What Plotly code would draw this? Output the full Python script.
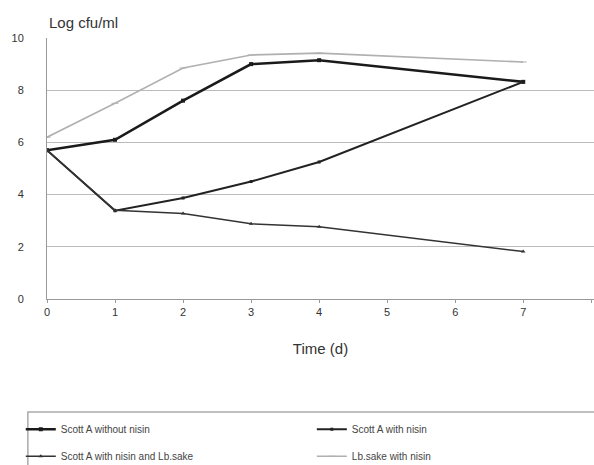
import plotly.graph_objects as go

days = [0, 1, 2, 3, 4, 7]
without_nisin = [5.7, 6.1, 7.6, 9.0, 9.15, 8.32]
with_nisin = [5.7, 3.38, 3.87, 4.5, 5.25, 8.32]
with_nisin_lb = [5.7, 3.4, 3.28, 2.88, 2.77, 1.82]
lb_sake_nisin = [6.2, 7.5, 8.85, 9.35, 9.42, 9.08]
x_ticks = [0, 1, 2, 3, 4, 5, 6, 7, 8]
y_ticks = [0, 2, 4, 6, 8, 10]

FONT = "Liberation Sans Narrow, Arial Narrow, Liberation Sans, sans-serif"

fig = go.Figure()
fig.add_trace(go.Scatter(x=days, y=without_nisin, name="Scott A without nisin", mode="lines+markers",
                         legend="legend", legendgroup="a",
                         line=dict(color="#1a1a1a", width=2.6), marker=dict(symbol="square", size=4, color="#1a1a1a")))
fig.add_trace(go.Scatter(x=days, y=with_nisin, name="Scott A with nisin", mode="lines+markers",
                         legend="legend2", legendgroup="b",
                         line=dict(color="#222222", width=2.0), marker=dict(symbol="square", size=3, color="#222222")))
fig.add_trace(go.Scatter(x=days, y=with_nisin_lb, name="Scott A with nisin and Lb.sake", mode="lines+markers",
                         legend="legend", legendgroup="c",
                         line=dict(color="#333333", width=1.5), marker=dict(symbol="triangle-up", size=4, color="#333333")))
fig.add_trace(go.Scatter(x=days, y=lb_sake_nisin, name="Lb.sake with nisin", mode="lines+markers",
                         legend="legend2", legendgroup="d",
                         line=dict(color="#b0b0b0", width=1.6), marker=dict(symbol="line-ew-open", size=5, color="#b0b0b0")))

leg_common = dict(orientation="v", xref="container", yref="container", yanchor="top", y=0.108,
                  xanchor="left", borderwidth=0, bgcolor="rgba(0,0,0,0)",
                  font=dict(size=10, color="#444444"), itemwidth=30, tracegroupgap=8)

fig.update_layout(
    width=594, height=465,
    margin=dict(l=47, r=0, t=38, b=166, autoexpand=False),
    paper_bgcolor="white", plot_bgcolor="white",
    font=dict(family=FONT, size=11, color="#333333"),
    showlegend=True,
    legend=dict(x=0.035, **leg_common),
    legend2=dict(x=0.525, **leg_common),
    shapes=[dict(type="rect", xref="paper", yref="paper", x0=-0.035, x1=1.05, y0=-0.433, y1=-0.64,
                 line=dict(color="#aaaaaa", width=1.5), fillcolor="rgba(0,0,0,0)", layer="below")],
    xaxis=dict(range=[0, 8.04], tickvals=x_ticks, showgrid=False, showline=True, linecolor="#999999",
               ticks="outside", ticklen=3, tickcolor="#999999", zeroline=False,
               title=dict(text="Time (d)", font=dict(size=15, color="#333333"), standoff=26)),
    yaxis=dict(range=[0, 10], tickvals=y_ticks, showgrid=True, gridcolor="#bbbbbb", gridwidth=1,
               showline=True, linecolor="#999999", zeroline=False, ticks="", ticklabelstandoff=20),
    annotations=[dict(text="Log cfu/ml", xref="paper", yref="paper", x=0.0, y=1.02, xanchor="left",
                      yanchor="bottom", showarrow=False, font=dict(size=15, color="#333333"))],
)

fig.write_html("out.html")
